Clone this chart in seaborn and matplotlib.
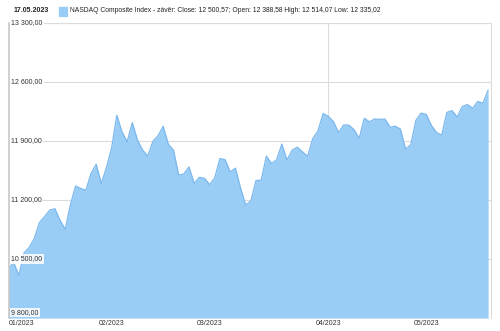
import matplotlib
matplotlib.use("Agg")
import matplotlib.pyplot as plt
import matplotlib.transforms as mtransforms
import seaborn as sns
import pandas as pd
import numpy as np

# NASDAQ Composite daily closes, 01/2023 - 17.05.2023 (trading days)
jan = [10386.98, 10458.76, 10305.24, 10569.29, 10635.65, 10742.63, 10931.67, 11001.10,
       11079.16, 11095.11, 10957.01, 10852.27, 11140.43, 11364.41, 11334.27, 11313.36,
       11512.41, 11621.71, 11393.81, 11584.55]
feb = [11816.32, 12200.82, 12006.95, 11887.45, 12113.79, 11910.52, 11789.58, 11718.12,
       11891.79, 11960.15, 12070.59, 11855.83, 11787.27, 11492.30, 11507.07, 11590.40,
       11394.94, 11466.98, 11455.54]
mar = [11379.48, 11462.98, 11689.01, 11675.74, 11530.33, 11576.00, 11338.36, 11138.89,
       11188.84, 11428.15, 11434.05, 11717.28, 11630.51, 11675.54, 11860.11, 11669.96,
       11787.40, 11823.96, 11768.84, 11716.08, 11926.24, 12013.47, 12221.91]
apr = [12189.45, 12126.33, 11996.86, 12087.96, 12084.36, 12031.88, 11929.34, 12166.27,
       12123.47, 12157.72, 12153.41, 12157.23, 12059.56, 12072.46, 12037.20, 11799.16,
       11854.35, 12142.24, 12226.58]
may = [12212.60, 12080.51, 11997.16, 11966.40, 12235.41, 12256.92, 12179.55, 12306.44,
       12328.51, 12284.74, 12365.21, 12343.05, 12500.57]

month_labels = ["01/2023", "02/2023", "03/2023", "04/2023", "05/2023"]
y_ticks = [13300, 12600, 11900, 11200, 10500, 9800]
y_tick_labels = ["13 300,00", "12 600,00", "11 900,00", "11 200,00", "10 500,00", "9 800,00"]
title_date = "17.05.2023"
legend_text = ("NASDAQ Composite Index - závěr: Close: 12 500,57; Open: 12 388,58 "
               "High: 12 514,07 Low: 12 335,02")

months = [jan, feb, mar, apr, may]
close = jan + feb + mar + apr + may
df = pd.DataFrame({"i": np.arange(len(close)), "close": close})
month_starts = np.cumsum([0] + [len(m) for m in months[:-1]])

sns.set_style("white")
plt.rcParams["font.family"] = ["Liberation Sans", "DejaVu Sans"]

fill_c = "#9acdf6"
line_c = "#7ab8ee"
txt_c = "#333333"
grid_c = "#dcdcdc"
fs = 5.0

fig = plt.figure(figsize=(5.0, 3.31), dpi=100)
ax = fig.add_axes([0.017, 0.039, 0.965, 0.893])

ymin, ymax = 9800, 13300
ax.set_ylim(ymin, ymax)
ax.set_xlim(0, (len(close) - 1) * 1.006)

for yv in y_ticks:
    ax.axhline(yv, color=grid_c, lw=0.8, zorder=0)
ax.axvline(month_starts[3], color=grid_c, lw=0.8, zorder=0.5)

ax.fill_between(df["i"], df["close"], ymin, color=fill_c, lw=0, zorder=1)
sns.lineplot(data=df, x="i", y="close", ax=ax, color=line_c, lw=0.9, zorder=2)

ax.set_xlabel("")
ax.set_ylabel("")
ax.set_yticks([])
ax.set_xticks(month_starts)
ax.set_xticklabels(month_labels, fontsize=fs, color=txt_c)
ax.tick_params(axis="x", length=0, pad=1.5)
xl = ax.get_xticklabels()
xl[0].set_ha("left")

for s in ["top", "right"]:
    ax.spines[s].set_color(grid_c)
    ax.spines[s].set_linewidth(0.8)
ax.spines["left"].set_color("#c8c8c8")
ax.spines["left"].set_linewidth(1.2)
ax.spines["bottom"].set_visible(False)

trans = mtransforms.blended_transform_factory(ax.transAxes, ax.transData)
for yv, lab in zip(y_ticks, y_tick_labels):
    va = "center"
    yy = yv
    if yv == ymin:
        yy = yv + 25
        va = "bottom"
    ax.text(0.006, yy, lab, transform=trans, fontsize=fs, color=txt_c, ha="left", va=va,
            zorder=5, bbox=dict(boxstyle="square,pad=0.15", fc="white", ec="none", alpha=0.85))

fig.text(0.028, 0.967, title_date, fontsize=fs, color="#222222", fontweight="bold",
         ha="left", va="center")
fig.patches.append(plt.Rectangle((0.117, 0.952), 0.016, 0.026, transform=fig.transFigure,
                                 color=fill_c, figure=fig))
fig.text(0.139, 0.967, legend_text, fontsize=4.85, color="#222222", ha="left", va="center")

fig.savefig("out.png", dpi=100)
